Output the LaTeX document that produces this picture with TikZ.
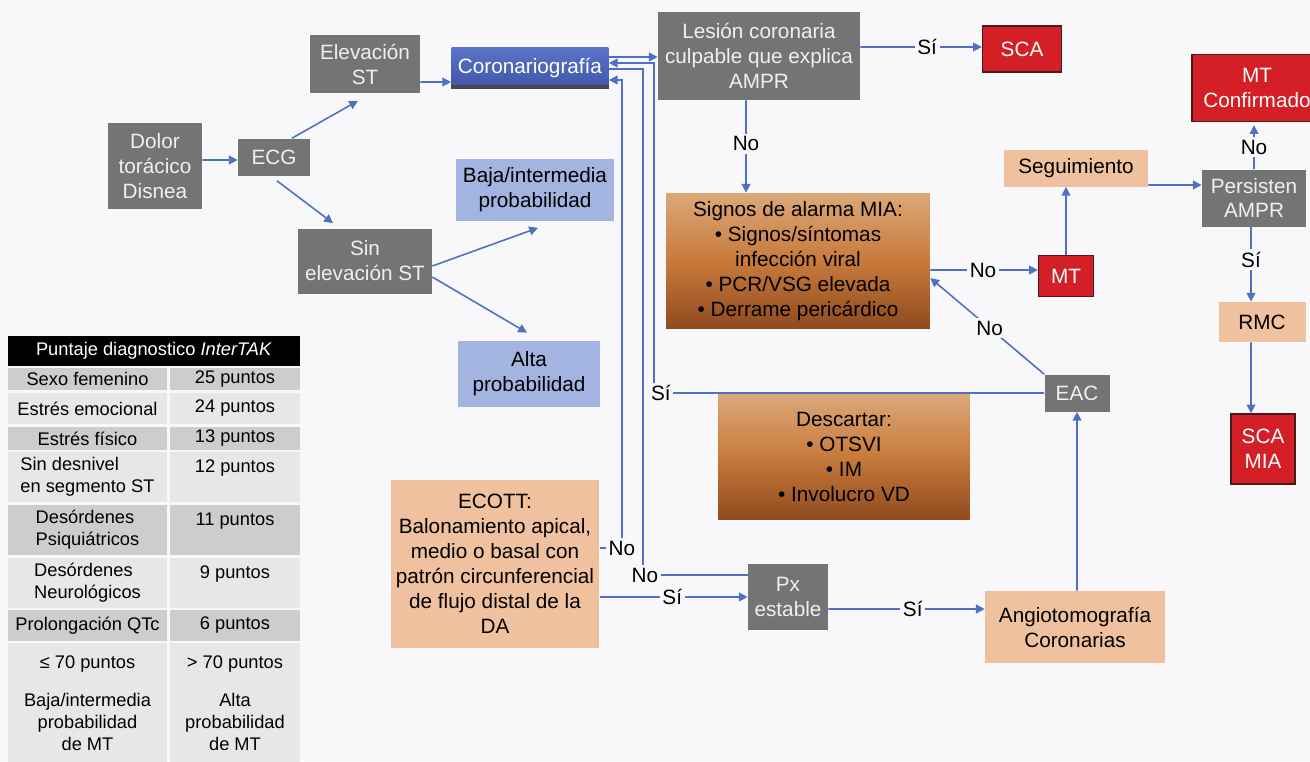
\documentclass[tikz,border=0pt]{standalone}
\usepackage{fontspec}
\setmainfont{Liberation Sans}
\usetikzlibrary{arrows.meta}
\definecolor{bgc}{HTML}{F8F8FA}
\definecolor{boxgray}{HTML}{747474}
\definecolor{redbox}{HTML}{D41F27}
\definecolor{redline}{HTML}{4A1A1A}
\definecolor{tan}{HTML}{F0C19F}
\definecolor{lblue}{HTML}{A4B4E0}
\definecolor{brtop}{HTML}{DBA878}
\definecolor{brmid}{HTML}{C87A3C}
\definecolor{brbot}{HTML}{8E4A1E}
\definecolor{cortop}{HTML}{5A74C8}
\definecolor{corbot}{HTML}{3E56AA}
\definecolor{arrc}{HTML}{5070C4}
\definecolor{celld}{HTML}{CDCDCD}
\definecolor{celll}{HTML}{E7E7E7}
\begin{document}
\begin{tikzpicture}[x=0.02cm,y=-0.02cm,font=\fontsize{11.8}{14.2}\selectfont]
\tikzstyle{bx}=[align=center, inner sep=1pt];
\tikzstyle{gbox}=[bx, fill=boxgray, text=white!94!black];
\tikzstyle{tbox}=[bx, fill=tan];
\tikzstyle{rbox}=[bx, fill=redbox, draw=redline, line width=0.8pt, text=white];
\tikzstyle{lbox}=[bx, fill=lblue];
\tikzstyle{brbox}=[bx, top color=brtop, bottom color=brbot, middle color=brmid];
\tikzstyle{ln}=[draw=arrc, line width=0.9pt];
\tikzstyle{arr}=[ln, -{Triangle[length=5pt,width=5pt]}];
\tikzstyle{lbl}=[fill=bgc, inner sep=1.5pt, text=black];
\tikzstyle{cell}=[inner sep=0pt, font=\fontsize{10.4}{12.5}\selectfont, align=center];
\tikzstyle{cd}=[cell, fill=celld];
\tikzstyle{cl}=[cell, fill=celll];
\path[use as bounding box, fill=bgc] (0,0) rectangle (1310,761);

\node [gbox, minimum width=1.88cm, minimum height=1.74cm] (dol) at (155,166) {Dolor\\torácico\\Disnea};
\node [gbox, minimum width=1.44cm, minimum height=0.74cm] (ecg) at (274,157) {ECG};
\node [gbox, minimum width=2.2cm, minimum height=1.18cm] (elev) at (365,64) {Elevación\\ST};
\node [gbox, minimum width=2.68cm, minimum height=1.3cm] (sinel) at (365,261) {Sin\\elevación ST};
\node [bx, top color=cortop, bottom color=corbot, text=white, minimum width=3.14cm, minimum height=0.84cm] (cor) at (530,68) {Coronariografía};
\fill[black!72] ([yshift=0.09cm]cor.south west) rectangle (cor.south east);
\node [lbox, minimum width=3.16cm, minimum height=1.26cm] (baja) at (535,190) {Baja/intermedia\\probabilidad};
\node [lbox, minimum width=2.84cm, minimum height=1.32cm] (alta) at (529,374) {Alta\\probabilidad};
\node [gbox, minimum width=4.04cm, minimum height=1.76cm] (les) at (759,56) {Lesión coronaria\\culpable que explica\\AMPR};
\node [rbox, minimum width=1.58cm, minimum height=0.92cm] (sca) at (1022,49) {SCA};
\node [rbox, minimum width=2.6cm, minimum height=1.34cm] (mtc) at (1257,88) {MT\\Confirmado};
\node [brbox, minimum width=5.28cm, minimum height=2.72cm] (sig) at (798,261) {Signos de alarma MIA:\\\textbullet\ Signos/síntomas\\infección viral\\\textbullet\ PCR/VSG elevada\\\textbullet\ Derrame pericárdico};
\node [rbox, minimum width=1.1cm, minimum height=0.82cm] (mt) at (1066,276) {MT};
\node [tbox, minimum width=2.88cm, minimum height=0.74cm] (seg) at (1076,168) {Seguimiento};
\node [gbox, minimum width=2.08cm, minimum height=1.14cm] (pers) at (1254,198) {Persisten\\AMPR};
\node [tbox, minimum width=1.74cm, minimum height=0.8cm] (rmc) at (1262,322) {RMC};
\node [rbox, minimum width=1.28cm, minimum height=1.4cm] (scamia) at (1263,449) {SCA\\MIA};
\node [gbox, minimum width=1.3cm, minimum height=0.74cm] (eac) at (1077,393) {EAC};
\node [brbox, minimum width=5.04cm, minimum height=2.52cm] (desc) at (844,457) {Descartar:\\\textbullet\ OTSVI\\\textbullet\ IM\\\textbullet\ Involucro VD};
\node [tbox, minimum width=4.18cm, minimum height=3.36cm] (ecott) at (495,564) {ECOTT:\\Balonamiento apical,\\medio o basal con\\patrón circunferencial\\de flujo distal de la\\DA};
\node [gbox, minimum width=1.6cm, minimum height=1.32cm] (px) at (788,597) {Px\\estable};
\node [tbox, minimum width=3.6cm, minimum height=1.44cm] (angio) at (1075,627) {Angiotomografía\\Coronarias};

\draw [arr] ([yshift=0.12cm]dol.east) -- ([yshift=-0.06cm]ecg.west);
\draw [arr] ([xshift=0.36cm]ecg.north) -- ([xshift=-0.14cm,yshift=-0.14cm]elev.south);
\draw [arr] ([xshift=0.06cm,yshift=-0.1cm]ecg.south) -- ([xshift=-0.64cm,yshift=0.1cm]sinel.north);
\draw [arr] ([yshift=-0.36cm]elev.east) -- ([yshift=-0.28cm]cor.west);
\draw [arr] ([yshift=-0.1cm]sinel.east) -- ([xshift=0.06cm,yshift=-0.12cm]baja.south);
\draw [arr] ([yshift=-0.32cm]sinel.east) -- ([xshift=-0.04cm,yshift=0.16cm]alta.north);
\draw [arr] ([yshift=0.22cm]cor.east) -- ([yshift=-0.02cm]les.west);
\draw [arr] ([yshift=0.18cm]les.east) -- node [lbl, pos=0.55] {Sí} ([yshift=0.04cm]sca.west);
\draw [arr] ([xshift=-0.26cm]les.south) -- node [lbl, pos=0.47] {No} ([xshift=-1.04cm]sig.north);
\draw [arr] ([yshift=-0.18cm]sig.east) -- node [lbl, pos=0.49] {No} ([yshift=0.12cm]mt.west);
\draw [arr] (eac.north west) -- node [lbl, pos=0.48] {No} ([yshift=-0.34cm]sig.east);
\draw [arr] (mt.north) -- ([xshift=-0.2cm]seg.south);
\draw [arr] ([yshift=-0.34cm]seg.east) -- ([yshift=0.26cm]pers.west);
\draw [arr] (pers.north) -- node [lbl] {No} ([xshift=-0.06cm,yshift=-0.06cm]mtc.south);
\draw [arr] ([xshift=-0.06cm]pers.south) -- node [lbl, pos=0.44] {Sí} ([xshift=-0.22cm]rmc.north);
\draw [arr] ([xshift=-0.22cm]rmc.south) -- ([xshift=-0.24cm]scamia.north);
\draw [arr] ([xshift=0.04cm]angio.north) -- (eac.south);
\draw [arr] ([yshift=-0.24cm]px.east) -- node [lbl, pos=0.54] {Sí} ([yshift=0.36cm]angio.west);
\draw [arr] ([yshift=-0.66cm]ecott.east) -- node [lbl, pos=0.49] {Sí} (px.west);
\draw [arr] ([yshift=0.32cm]ecott.east) -| node [lbl, pos=0.5] {No} ([xshift=0.26cm,yshift=-0.24cm]cor.east) -- ([yshift=-0.24cm]cor.east);
\draw [ln] ([yshift=0.44cm]px.west) -| node [lbl, pos=0.5, xshift=0.04cm] {No} ([xshift=0.68cm,yshift=-0.02cm]cor.east) -- ([yshift=-0.02cm]cor.east);
\draw [arr] (eac.west) -| node [lbl, pos=0.5, xshift=0.14cm] {Sí} ([xshift=0.9cm,yshift=0.1cm]cor.east) -- ([yshift=0.1cm]cor.east);

\node [cell, fill=black, text=white, minimum width=5.84cm, minimum height=0.6cm] (th) at (154,351) {Puntaje diagnostico \textit{InterTAK}};
\node [cd, minimum width=3.18cm, minimum height=0.44cm] (a1) at (87.5,379) {Sexo femenino};
\node [cd, minimum width=2.6cm, minimum height=0.44cm] (b1) at (235,379) {25 puntos};
\node [cl, minimum width=3.18cm, minimum height=0.62cm] (a2) at (87.5,408.5) {Estrés emocional};
\node [cl, minimum width=2.6cm, minimum height=0.62cm] (b2) at (235,408.5) {24 puntos};
\node [cd, minimum width=3.18cm, minimum height=0.46cm] (a3) at (87.5,438.5) {Estrés físico};
\node [cd, minimum width=2.6cm, minimum height=0.46cm] (b3) at (235,438.5) {13 puntos};
\node [cl, align=left, minimum width=3.18cm, minimum height=1cm] (a4) at (87.5,477) {Sin desnivel\\en segmento ST};
\node [cl, minimum width=2.6cm, minimum height=1cm] (b4) at (235,477) {12 puntos\\\mbox{}};
\node [cd, align=left, minimum width=3.18cm, minimum height=1cm] (a5) at (87.5,530) {Desórdenes\\Psiquiátricos};
\node [cd, minimum width=2.6cm, minimum height=1cm] (b5) at (235,530) {11 puntos\\\mbox{}};
\node [cl, align=left, minimum width=3.18cm, minimum height=1cm] (a6) at (87.5,583) {Desórdenes\\Neurológicos};
\node [cl, minimum width=2.6cm, minimum height=1cm] (b6) at (235,583) {9 puntos\\\mbox{}};
\node [cd, minimum width=3.18cm, minimum height=0.62cm] (a7) at (87.5,625.5) {Prolongación QTc};
\node [cd, minimum width=2.6cm, minimum height=0.62cm] (b7) at (235,625.5) {6 puntos};
\node [cl, minimum width=3.18cm, minimum height=2.4cm] (a8) at (87.5,703) {≤ 70 puntos\\[9pt]Baja/intermedia\\probabilidad\\de MT};
\node [cl, minimum width=2.6cm, minimum height=2.4cm] (b8) at (235,703) {> 70 puntos\\[9pt]Alta\\probabilidad\\de MT};
\end{tikzpicture}
\end{document}
